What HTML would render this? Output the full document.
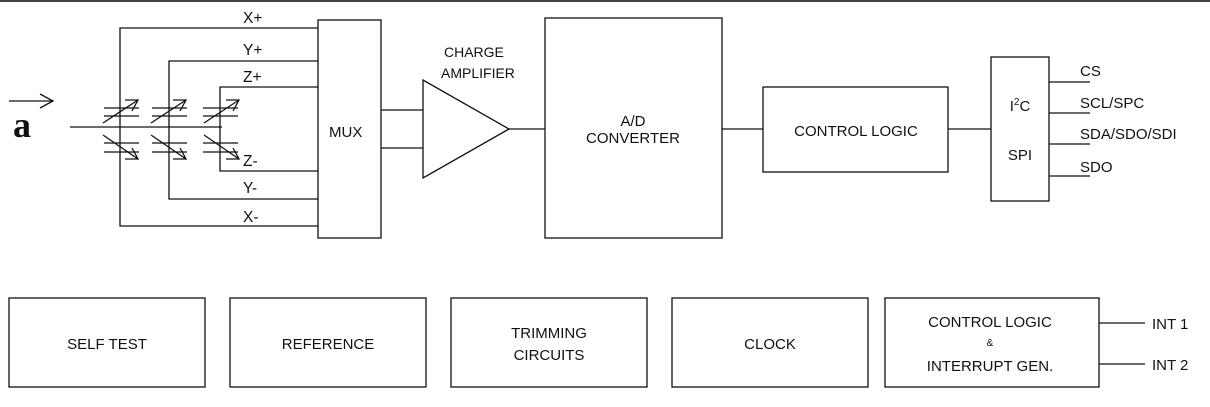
<!DOCTYPE html>
<html><head><style>
html,body{margin:0;padding:0;background:#fff}
svg{display:block}
text{font-family:"Liberation Sans",Arial,sans-serif;font-size:15px;fill:#111}
</style></head><body>
<svg width="1210" height="407" viewBox="0 0 1210 407" xmlns="http://www.w3.org/2000/svg">
<g stroke="#111" stroke-width="1.3" fill="none">
<line x1="0" y1="1" x2="1210" y2="1" stroke="#444" stroke-width="2"/>
<polyline points="318,28 120,28 120,226 318,226"/>
<polyline points="318,61 169,61 169,199 318,199"/>
<polyline points="318,87 220,87 220,171 318,171"/>
<line x1="70" y1="127" x2="222" y2="127"/>
<g>
<line x1="104" y1="108" x2="139" y2="108"/><line x1="104" y1="116" x2="139" y2="116"/>
<line x1="104" y1="143" x2="139" y2="143"/><line x1="104" y1="152" x2="139" y2="152"/>
<line x1="152" y1="108" x2="187" y2="108"/><line x1="152" y1="116" x2="187" y2="116"/>
<line x1="152" y1="143" x2="187" y2="143"/><line x1="152" y1="152" x2="187" y2="152"/>
<line x1="203" y1="108" x2="238" y2="108"/><line x1="203" y1="116" x2="238" y2="116"/>
<line x1="203" y1="143" x2="238" y2="143"/><line x1="203" y1="152" x2="238" y2="152"/>
</g>
<g>
<line x1="103" y1="123" x2="138" y2="100"/><polyline points="125,100 138,100 132,111"/>
<line x1="103" y1="135" x2="138" y2="159"/><polyline points="125,159 138,159 132,148"/>
<line x1="151" y1="123" x2="186" y2="100"/><polyline points="173,100 186,100 180,111"/>
<line x1="151" y1="135" x2="186" y2="159"/><polyline points="173,159 186,159 180,148"/>
<line x1="204" y1="123" x2="239" y2="100"/><polyline points="226,100 239,100 233,111"/>
<line x1="204" y1="135" x2="239" y2="159"/><polyline points="226,159 239,159 233,148"/>
</g>
<line x1="9" y1="101" x2="53" y2="101"/><polyline points="40,94 53,101 40,108"/>
<rect x="318" y="20" width="63" height="218"/>
<line x1="381" y1="110" x2="423" y2="110"/><line x1="381" y1="148" x2="423" y2="148"/>
<polygon points="423,80 423,178 509,129"/>
<line x1="509" y1="129" x2="545" y2="129"/>
<rect x="545" y="18" width="177" height="220"/>
<line x1="722" y1="129" x2="763" y2="129"/>
<rect x="763" y="87" width="185" height="85"/>
<line x1="948" y1="129" x2="991" y2="129"/>
<rect x="991" y="57" width="58" height="144"/>
<line x1="1049" y1="82" x2="1090" y2="82"/>
<line x1="1049" y1="113" x2="1090" y2="113"/>
<line x1="1049" y1="144" x2="1090" y2="144"/>
<line x1="1049" y1="176" x2="1090" y2="176"/>
<rect x="9" y="298" width="196" height="89"/>
<rect x="230" y="298" width="196" height="89"/>
<rect x="451" y="298" width="196" height="89"/>
<rect x="672" y="298" width="196" height="89"/>
<rect x="885" y="298" width="214" height="89"/>
<line x1="1099" y1="323" x2="1145" y2="323"/>
<line x1="1099" y1="364" x2="1145" y2="364"/>
</g>
<text x="13" y="137" style="font-family:'Liberation Serif',serif;font-size:36px;font-weight:bold">a</text>
<text x="243" y="23" style="font-size:15.5px">X+</text>
<text x="243" y="55" style="font-size:15.5px">Y+</text>
<text x="243" y="82" style="font-size:15.5px">Z+</text>
<text x="243" y="166" style="font-size:15.5px">Z-</text>
<text x="243" y="193" style="font-size:15.5px">Y-</text>
<text x="243" y="222" style="font-size:15.5px">X-</text>
<text x="329" y="137">MUX</text>
<text x="444" y="57" style="font-size:14px">CHARGE</text>
<text x="441" y="78" style="font-size:14px">AMPLIFIER</text>
<text x="633" y="126" text-anchor="middle">A/D</text>
<text x="633" y="143" text-anchor="middle">CONVERTER</text>
<text x="856" y="136" text-anchor="middle">CONTROL LOGIC</text>
<text x="1020" y="111" text-anchor="middle">I<tspan dy="-6" style="font-size:10px">2</tspan><tspan dy="6">C</tspan></text>
<text x="1020" y="160" text-anchor="middle">SPI</text>
<text x="1080" y="76">CS</text>
<text x="1080" y="108">SCL/SPC</text>
<text x="1080" y="139">SDA/SDO/SDI</text>
<text x="1080" y="172">SDO</text>
<text x="107" y="349" text-anchor="middle">SELF TEST</text>
<text x="328" y="349" text-anchor="middle">REFERENCE</text>
<text x="549" y="338" text-anchor="middle">TRIMMING</text>
<text x="549" y="360" text-anchor="middle">CIRCUITS</text>
<text x="770" y="349" text-anchor="middle">CLOCK</text>
<text x="990" y="327" text-anchor="middle">CONTROL LOGIC</text>
<text x="990" y="346" text-anchor="middle" style="font-size:10px">&amp;</text>
<text x="990" y="371" text-anchor="middle">INTERRUPT GEN.</text>
<text x="1152" y="329">INT 1</text>
<text x="1152" y="370">INT 2</text>
</svg>
</body></html>
